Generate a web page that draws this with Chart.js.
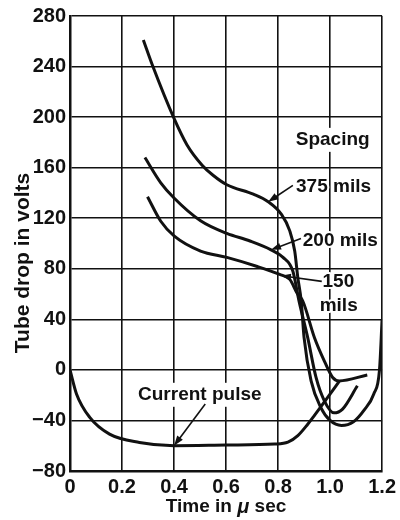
<!DOCTYPE html>
<html lang="en">
  <head>
    <meta charset="UTF-8" />
    <title>Tube drop vs time</title>
    <script src="https://cdn.jsdelivr.net/npm/chart.js"></script>
    <style>
      html, body { margin: 0; padding: 0; background: #fff; }
      #wrap { width: 400px; height: 520px; }
    </style>
  </head>
  <body>
    <div id="wrap"><canvas id="tubeChart" width="400" height="520"></canvas></div>

    <script>
      // Tick labels
      const xTickLabels = ["0", "0.2", "0.4", "0.6", "0.8", "1.0", "1.2"];
      const yTickLabels = ["\u221280", "\u221240", "0", "40", "80", "120", "160", "200", "240", "280"];

      // Tube drop, 375 mils spacing (time in usec, volts)
      const t375 = [0.282, 0.317, 0.4, 0.45, 0.508, 0.55, 0.603, 0.705, 0.762, 0.813, 0.845, 0.864, 0.876, 0.889, 0.9, 0.927, 0.965, 1.0, 1.044, 1.09, 1.13, 1.168, 1.19, 1.2];
      const v375 = [261, 241, 199, 178, 162, 154, 146.5, 139, 133, 123, 110, 94, 73, 54.5, 25.5, -8.7, -30, -40, -44, -41, -32, -19, 0, 40];

      // Tube drop, 200 mils spacing
      const t200 = [0.288, 0.349, 0.4, 0.502, 0.603, 0.692, 0.773, 0.819, 0.857, 0.88, 0.914, 0.946, 0.978, 1.015, 1.048, 1.105];
      const v200 = [168, 148, 136, 118, 108, 102, 95, 89, 78, 55, 25.5, -6, -24.5, -34, -31, -12.6];

      // Tube drop, 150 mils spacing
      const t150 = [0.298, 0.349, 0.4, 0.502, 0.603, 0.717, 0.806, 0.845, 0.875, 0.895, 0.94, 0.978, 1.01, 1.035, 1.143];
      const v150 = [137, 117.6, 106, 94, 89, 82, 75.5, 71.6, 60, 54.5, 25.5, 7, -6, -8.7, -4];

      // Current pulse (arbitrary scale, drawn on the volts axis)
      const tPulse = [0, 0.025, 0.076, 0.152, 0.267, 0.4, 0.6, 0.787, 0.838, 0.876, 0.914, 0.94, 0.99, 1.035];
      const vPulse = [0, -19, -37.6, -50.8, -57.4, -60, -59.5, -58.7, -57.2, -52, -43, -36, -22, -9];

      // Curve labels: text, anchor (data units), alignment
      const notes = [
        { text: "Spacing", x: 1.01, y: 182, align: "center", box: true },
        { text: "375 mils", x: 0.869, y: 145, align: "left" },
        { text: "200 mils", x: 0.895, y: 102, align: "left" },
        { text: "150", x: 0.971, y: 69.5, align: "left" },
        { text: "mils", x: 0.96, y: 51, align: "left" },
        { text: "Current pulse", x: 0.499, y: -19.7, align: "center", box: true }
      ];

      // Pointer arrows from label to curve: [x0, y0, x1, y1]
      const pointers = [
        [0.857, 146, 0.762, 133],
        [0.888, 104, 0.773, 95],
        [0.968, 70, 0.811, 74.5],
        [0.52, -27, 0.4, -60]
      ];

      const zip = (xs, ys) => xs.map((x, i) => ({ x: x, y: ys[i] }));
      const FONT = "'Liberation Sans', Arial, sans-serif";

      function curve(xs, ys) {
        return {
          data: zip(xs, ys),
          showLine: true,
          borderColor: "#111",
          borderWidth: 3,
          pointRadius: 0,
          cubicInterpolationMode: "monotone",
          fill: false
        };
      }

      // Labels, pointer arrows and axis titles
      const notesPlugin = {
        id: "notes",
        afterDatasetsDraw(chart) {
          const ctx = chart.ctx;
          const xs = chart.scales.x, ys = chart.scales.y;
          ctx.save();
          ctx.font = "bold 19px " + FONT;
          ctx.textBaseline = "middle";
          notes.forEach(n => {
            const px = xs.getPixelForValue(n.x);
            const py = ys.getPixelForValue(n.y);
            ctx.textAlign = n.align;
            if (n.box) {
              const w = ctx.measureText(n.text).width;
              const left = n.align === "center" ? px - w / 2 : px;
              ctx.fillStyle = "#fff";
              ctx.fillRect(left - 4, py - 12, w + 8, 24);
            } else {
              ctx.lineWidth = 4;
              ctx.strokeStyle = "#fff";
              ctx.lineJoin = "round";
              ctx.strokeText(n.text, px, py);
            }
            ctx.fillStyle = "#111";
            ctx.fillText(n.text, px, py);
          });

          ctx.strokeStyle = "#111";
          ctx.fillStyle = "#111";
          ctx.lineWidth = 1.6;
          pointers.forEach(p => {
            const x0 = xs.getPixelForValue(p[0]), y0 = ys.getPixelForValue(p[1]);
            const x1 = xs.getPixelForValue(p[2]), y1 = ys.getPixelForValue(p[3]);
            const a = Math.atan2(y1 - y0, x1 - x0);
            ctx.beginPath();
            ctx.moveTo(x0, y0);
            ctx.lineTo(x1 - 6 * Math.cos(a), y1 - 6 * Math.sin(a));
            ctx.stroke();
            ctx.beginPath();
            ctx.moveTo(x1, y1);
            ctx.lineTo(x1 - 10 * Math.cos(a) + 3.5 * Math.sin(a), y1 - 10 * Math.sin(a) - 3.5 * Math.cos(a));
            ctx.lineTo(x1 - 10 * Math.cos(a) - 3.5 * Math.sin(a), y1 - 10 * Math.sin(a) + 3.5 * Math.cos(a));
            ctx.closePath();
            ctx.fill();
          });

          // y axis title
          const area = chart.chartArea;
          ctx.font = "bold 21px " + FONT;
          ctx.textAlign = "center";
          ctx.save();
          ctx.translate(23, 263);
          ctx.rotate(-Math.PI / 2);
          ctx.fillText("Tube drop in volts", 0, 0);
          ctx.restore();

          // x axis title with italic mu
          const parts = [
            ["Time in ", "bold 19px " + FONT],
            ["\u03bc", "italic bold 20px " + FONT],
            [" sec", "bold 19px " + FONT]
          ];
          let total = 0;
          parts.forEach(pt => { ctx.font = pt[1]; total += ctx.measureText(pt[0]).width; });
          let cx = (area.left + area.right) / 2 - total / 2;
          ctx.textAlign = "left";
          parts.forEach(pt => {
            ctx.font = pt[1];
            ctx.fillText(pt[0], cx, 507);
            cx += ctx.measureText(pt[0]).width;
          });
          ctx.restore();
        }
      };

      new Chart(document.getElementById("tubeChart"), {
        type: "scatter",
        data: {
          datasets: [
            curve(t375, v375),
            curve(t200, v200),
            curve(t150, v150),
            curve(tPulse, vPulse)
          ]
        },
        options: {
          responsive: false,
          animation: false,
          layout: { padding: { top: 15, right: 15, left: 0, bottom: 0 } },
          plugins: {
            legend: { display: false },
            tooltip: { enabled: false }
          },
          scales: {
            x: {
              type: "linear",
              min: 0,
              max: 1.2,
              ticks: {
                stepSize: 0.2,
                padding: 4,
                color: "#111",
                font: { family: FONT, size: 20, weight: "bold" },
                callback: (v, i) => xTickLabels[i]
              },
              grid: { color: "#111", lineWidth: 1.6, drawTicks: false },
              border: { color: "#111", width: 2.5 },
              afterFit: s => { s.height = 49; }
            },
            y: {
              type: "linear",
              min: -80,
              max: 280,
              ticks: {
                stepSize: 40,
                padding: 4,
                color: "#111",
                font: { family: FONT, size: 20, weight: "bold" },
                callback: (v, i) => yTickLabels[i]
              },
              grid: { color: "#111", lineWidth: 1.6, drawTicks: false },
              border: { color: "#111", width: 2.5 },
              afterFit: s => { s.width = 70; }
            }
          }
        },
        plugins: [notesPlugin]
      });
    </script>
  </body>
</html>
